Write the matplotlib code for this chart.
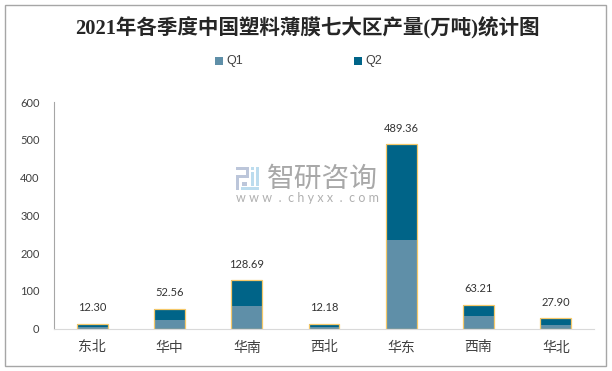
import matplotlib
matplotlib.use("Agg")
import matplotlib.pyplot as plt
from matplotlib.patches import Rectangle

plt.rcParams['font.family'] = ['Lato', 'Noto Sans CJK SC', 'DejaVu Sans']

regions = ["东北", "华中", "华南", "西北", "华东", "西南", "华北"]
q1 = [3.0, 22.0, 59.0, 3.0, 234.0, 33.0, 9.0]
q2 = [9.30, 30.56, 69.69, 9.18, 255.36, 30.21, 18.90]
totals = [12.30, 52.56, 128.69, 12.18, 489.36, 63.21, 27.90]
yticks = [0, 100, 200, 300, 400, 500, 600]

W, H = 612, 371
fig = plt.figure(figsize=(W / 100, H / 100), dpi=100)


def fx(px):
    return px / W


def fy(py):
    return 1 - py / H


def box(x0, y0, x1, y1, color):
    # rectangle in picture pixels, y going down
    fig.add_artist(Rectangle((fx(x0), fy(y1)), (x1 - x0) / W, (y1 - y0) / H,
                             transform=fig.transFigure, color=color, linewidth=0))


# outer frame
fig.add_artist(Rectangle((fx(4.5), fy(366)), fx(601.5), 361 / H, transform=fig.transFigure,
                         fill=False, edgecolor="#a6a6a6", linewidth=1.0))

# watermark
fig.text(fx(267), fy(179), "智研咨询", va="center", fontsize=20, color="#a8a8a8")
fig.text(fx(236), fy(198), "w w w  .  c h y x x  .  c o m", va="center", fontsize=9, color="#b0b0b0")
logo_a = "#bcc6da"
logo_b = "#bcdcee"
box(236, 167, 249, 170, logo_a)
box(246, 167, 249, 178, logo_a)
box(236, 175, 249, 178, logo_a)
box(236, 175, 239, 190, logo_a)
box(242, 182, 247, 186, logo_a)
box(251, 167, 254, 170, logo_b)
box(256, 167, 259, 186, logo_b)
box(251, 172, 254, 186, logo_b)
box(241, 187, 259, 190, logo_b)

ax = fig.add_axes([fx(53.5), fy(328.5), fx(541), 226.3 / H])
ax.patch.set_alpha(0)
x = list(range(len(regions)))
ax.bar(x, q1, width=0.4, color="#5f8fa8", label="Q1", zorder=2)
ax.bar(x, q2, width=0.4, bottom=q1, color="#006488", label="Q2", zorder=2)
# yellow outline goes round the whole stack, no line between the segments
ax.bar(x, totals, width=0.4, fill=False, edgecolor="#f5c869", linewidth=0.9, zorder=3)

for i, t in enumerate(totals):
    ax.annotate(f"{t:.2f}", (i, t), xytext=(0, 7.5), textcoords="offset points",
                ha="center", va="bottom", fontsize=8, color="#333333")

ax.set_xlim(-0.5, 6.5)
ax.set_ylim(0, 600)
ax.set_yticks(yticks)
ax.set_xticks(x)
ax.set_xticklabels(regions, fontsize=10, color="#404040")
ax.tick_params(axis="y", length=0, labelsize=8, labelcolor="#404040", pad=10)
ax.tick_params(axis="x", length=0, pad=8.5)
for s in ["top", "right"]:
    ax.spines[s].set_visible(False)
ax.spines["left"].set_color("#a6a6a6")
ax.spines["bottom"].set_color("#d9d9d9")

fig.text(fx(307), fy(28), "2021年各季度中国塑料薄膜七大区产量(万吨)统计图", ha="center", va="center",
         fontsize=14.8, fontweight="bold", color="#262626",
         family=["Liberation Serif", "Noto Sans CJK SC"])

# legend drawn by hand so the two entries sit far apart
box(215, 57, 223, 65, "#5f8fa8")
box(354, 57, 362, 65, "#006488")
fig.text(fx(226), fy(61), "Q1", va="center", fontsize=9, color="#404040", family="Liberation Sans")
fig.text(fx(365), fy(61), "Q2", va="center", fontsize=9, color="#404040", family="Liberation Sans")

fig.savefig("out.png", dpi=100)
